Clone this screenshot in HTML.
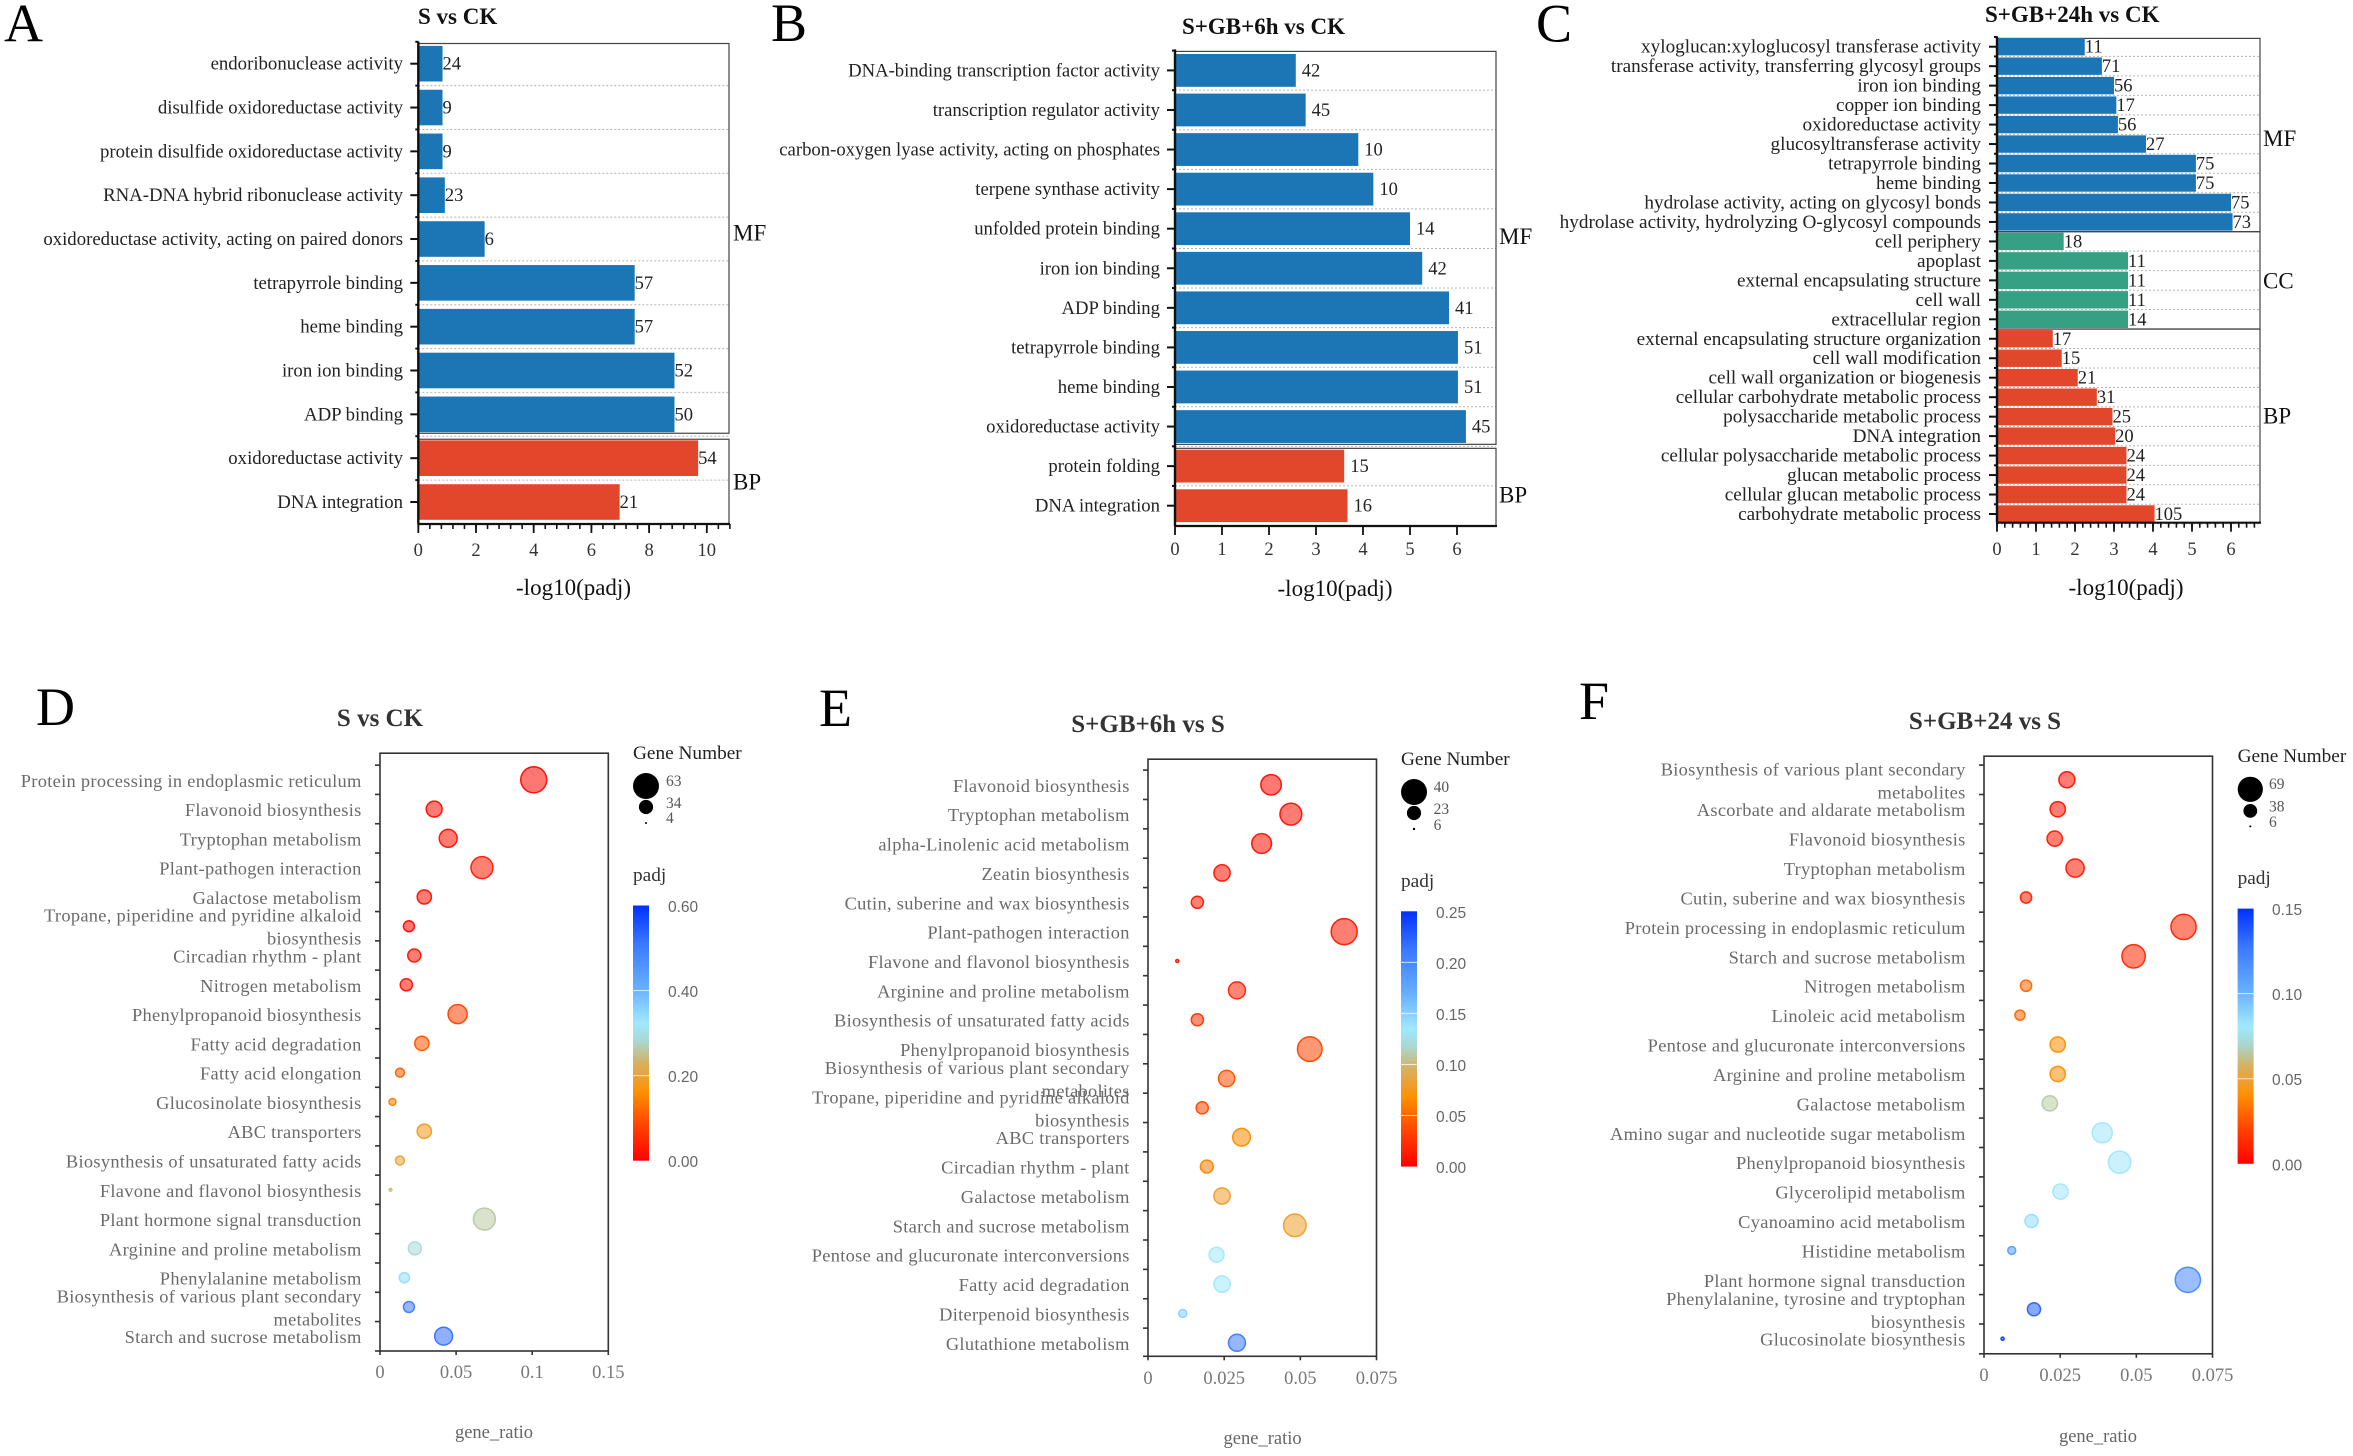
<!DOCTYPE html>
<html lang="en">
<head>
<meta charset="utf-8">
<title>GO and KEGG enrichment panels</title>
<style>
html,body{margin:0;padding:0;background:#fff;}
#chart{display:block;width:2353px;height:1456px;}
text{font-family:"Liberation Serif","Noto Serif CJK SC",serif;}
.sans{font-family:"Liberation Sans","Noto Sans CJK SC",sans-serif;}
</style>
</head>
<body>
<svg id="chart" xmlns="http://www.w3.org/2000/svg" width="2353" height="1456" viewBox="0 0 2353 1456">
<defs>
<linearGradient id="cbar" x1="0" y1="1" x2="0" y2="0">
<stop offset="0" stop-color="#ff0000"/><stop offset="0.15" stop-color="#ff4a00"/><stop offset="0.27" stop-color="#ff9000"/><stop offset="0.38" stop-color="#d8b060"/><stop offset="0.47" stop-color="#a8d8d0"/><stop offset="0.54" stop-color="#a0e8ff"/><stop offset="0.68" stop-color="#66aeff"/><stop offset="0.85" stop-color="#3a78ff"/><stop offset="1" stop-color="#0030ff"/>
</linearGradient>
</defs>
</svg>
<script>
// ---------- Bar panel data ----------
const aCategories = ["endoribonuclease activity","disulfide oxidoreductase activity","protein disulfide oxidoreductase activity","RNA-DNA hybrid ribonuclease activity","oxidoreductase activity, acting on paired donors","tetrapyrrole binding","heme binding","iron ion binding","ADP binding","oxidoreductase activity","DNA integration"];
const aValues = [0.84,0.84,0.84,0.92,2.3,7.5,7.5,8.88,8.88,9.7,6.98];
const aCounts = [24,9,9,23,6,57,57,52,50,54,21];
const aGroups = ["MF","MF","MF","MF","MF","MF","MF","MF","MF","BP","BP"];
const aTicks = [0,2,4,6,8,10];

const bCategories = ["DNA-binding transcription factor activity","transcription regulator activity","carbon-oxygen lyase activity, acting on phosphates","terpene synthase activity","unfolded protein binding","iron ion binding","ADP binding","tetrapyrrole binding","heme binding","oxidoreductase activity","protein folding","DNA integration"];
const bValues = [2.57,2.78,3.9,4.22,5.0,5.26,5.83,6.02,6.02,6.19,3.6,3.67];
const bCounts = [42,45,10,10,14,42,41,51,51,45,15,16];
const bGroups = ["MF","MF","MF","MF","MF","MF","MF","MF","MF","MF","BP","BP"];
const bTicks = [0,1,2,3,4,5,6];

const cCategories = ["xyloglucan:xyloglucosyl transferase activity","transferase activity, transferring glycosyl groups","iron ion binding","copper ion binding","oxidoreductase activity","glucosyltransferase activity","tetrapyrrole binding","heme binding","hydrolase activity, acting on glycosyl bonds","hydrolase activity, hydrolyzing O-glycosyl compounds","cell periphery","apoplast","external encapsulating structure","cell wall","extracellular region","external encapsulating structure organization","cell wall modification","cell wall organization or biogenesis","cellular carbohydrate metabolic process","polysaccharide metabolic process","DNA integration","cellular polysaccharide metabolic process","glucan metabolic process","cellular glucan metabolic process","carbohydrate metabolic process"];
const cValues = [2.25,2.69,3.0,3.06,3.1,3.82,5.1,5.1,6.0,6.04,1.71,3.36,3.36,3.36,3.36,1.43,1.66,2.07,2.56,2.96,3.03,3.32,3.32,3.32,4.04];
const cCounts = [11,71,56,17,56,27,75,75,75,73,18,11,11,11,14,17,15,21,31,25,20,24,24,24,105];
const cGroups = ["MF","MF","MF","MF","MF","MF","MF","MF","MF","MF","CC","CC","CC","CC","CC","BP","BP","BP","BP","BP","BP","BP","BP","BP","BP"];
const cTicks = [0,1,2,3,4,5,6];

// ---------- Bubble panel data ----------
const dCategories = ["Protein processing in endoplasmic reticulum","Flavonoid biosynthesis","Tryptophan metabolism","Plant-pathogen interaction","Galactose metabolism","Tropane, piperidine and pyridine alkaloid|biosynthesis","Circadian rhythm - plant","Nitrogen metabolism","Phenylpropanoid biosynthesis","Fatty acid degradation","Fatty acid elongation","Glucosinolate biosynthesis","ABC transporters","Biosynthesis of unsaturated fatty acids","Flavone and flavonol biosynthesis","Plant hormone signal transduction","Arginine and proline metabolism","Phenylalanine metabolism","Biosynthesis of various plant secondary|metabolites","Starch and sucrose metabolism"];
const dRatios = [0.101,0.0356,0.0448,0.067,0.0291,0.019,0.0225,0.0173,0.051,0.0275,0.0131,0.0082,0.0291,0.0131,0.0069,0.0686,0.0229,0.016,0.019,0.0418];
const dGenes = [63,38,43,53,34,26,31,29,46,34,21,16,34,21,6,53,31,24,26,43];
const dPadj = [0.01,0.015,0.02,0.03,0.02,0.012,0.02,0.02,0.08,0.1,0.11,0.14,0.18,0.2,0.24,0.26,0.29,0.34,0.5,0.52];
const dXTicks = [0,0.05,0.1,0.15];
const dSizeLegend = [63,34,4];
const dColorTicks = [0,0.2,0.4,0.6];

const eCategories = ["Flavonoid biosynthesis","Tryptophan metabolism","alpha-Linolenic acid metabolism","Zeatin biosynthesis","Cutin, suberine and wax biosynthesis","Plant-pathogen interaction","Flavone and flavonol biosynthesis","Arginine and proline metabolism","Biosynthesis of unsaturated fatty acids","Phenylpropanoid biosynthesis","Biosynthesis of various plant secondary|metabolites","Tropane, piperidine and pyridine alkaloid|biosynthesis","ABC transporters","Circadian rhythm - plant","Galactose metabolism","Starch and sucrose metabolism","Pentose and glucuronate interconversions","Fatty acid degradation","Diterpenoid biosynthesis","Glutathione metabolism"];
const eRatios = [0.0404,0.0469,0.0373,0.0243,0.0162,0.0644,0.0096,0.0292,0.0162,0.0531,0.0258,0.0178,0.0307,0.0193,0.0243,0.0482,0.0225,0.0243,0.0114,0.0292];
const eGenes = [32,34,31,26,20,40,7,27,20,38,26,20,28,21,26,35,24,26,14,27];
const ePadj = [0.005,0.007,0.008,0.01,0.012,0.012,0.013,0.018,0.025,0.035,0.04,0.035,0.065,0.06,0.08,0.08,0.135,0.135,0.15,0.21];
const eXTicks = [0,0.025,0.05,0.075];
const eSizeLegend = [40,23,6];
const eColorTicks = [0,0.05,0.1,0.15,0.2,0.25];

const fCategories = ["Biosynthesis of various plant secondary|metabolites","Ascorbate and aldarate metabolism","Flavonoid biosynthesis","Tryptophan metabolism","Cutin, suberine and wax biosynthesis","Protein processing in endoplasmic reticulum","Starch and sucrose metabolism","Nitrogen metabolism","Linoleic acid metabolism","Pentose and glucuronate interconversions","Arginine and proline metabolism","Galactose metabolism","Amino sugar and nucleotide sugar metabolism","Phenylpropanoid biosynthesis","Glycerolipid metabolism","Cyanoamino acid metabolism","Histidine metabolism","Plant hormone signal transduction","Phenylalanine, tyrosine and tryptophan|biosynthesis","Glucosinolate biosynthesis"];
const fRatios = [0.0272,0.0242,0.0232,0.0299,0.0138,0.0655,0.0491,0.0138,0.0118,0.0242,0.0242,0.0216,0.0388,0.0445,0.0251,0.0156,0.0091,0.0669,0.0164,0.0061];
const fGenes = [44,42,42,50,31,69,64,31,28,42,42,42,55,61,42,36,22,69,36,9];
const fPadj = [0.005,0.006,0.007,0.007,0.009,0.01,0.012,0.03,0.03,0.04,0.04,0.065,0.08,0.08,0.08,0.085,0.11,0.12,0.135,0.145];
const fXTicks = [0,0.025,0.05,0.075];
const fSizeLegend = [69,38,6];
const fColorTicks = [0,0.05,0.1,0.15];

const NS = 'http://www.w3.org/2000/svg';
const root = document.getElementById('chart');
const groupColors = {MF:'#1c76b6',CC:'#35a084',BP:'#e2472b'};
const ramp = [[0,255,0,0],[0.15,255,74,0],[0.27,255,144,0],[0.38,216,176,96],[0.47,168,216,208],[0.54,160,232,255],[0.68,102,174,255],[0.85,58,120,255],[1,0,48,255]];

function colorAt(t){
  t = Math.max(0,Math.min(1,t));
  for(let i=1;i<ramp.length;i++){
    if(t<=ramp[i][0]){
      const a=ramp[i-1],b=ramp[i],k=(t-a[0])/(b[0]-a[0]);
      return 'rgb('+[1,2,3].map(j=>Math.round(a[j]+(b[j]-a[j])*k)).join(',')+')';
    }
  }
  return 'rgb(0,48,255)';
}
function mk(tag,attrs,parent,txt){
  const el=document.createElementNS(NS,tag);
  for(const k in attrs) el.setAttribute(k,attrs[k]);
  if(txt!==undefined) el.textContent=txt;
  (parent||root).appendChild(el);
  return el;
}
function line(p,x1,y1,x2,y2,stroke,w,extra){
  return mk('line',Object.assign({x1,y1,x2,y2,stroke,'stroke-width':w},extra||{}),p);
}

function drawBarPanel(cfg,categories,values,counts,groups,ticks){
  const g=mk('g',{});
  
  
  const xScale=v=>cfg.x0+v*cfg.unit;
  const yScale=i=>cfg.yFirst+i*(cfg.yLast-cfg.yFirst)/(categories.length-1);
  const band=(cfg.yLast-cfg.yFirst)/(categories.length-1);
  const right=cfg.right;

  const title=mk('text',{x:cfg.titleX,y:cfg.titleY,'font-size':23,'font-weight':'bold',fill:'#111'},g,cfg.title);
  
  

  categories.forEach((c,i)=>{
    const y=yScale(i);
    const grid=line(g,cfg.x0,y+band/2,right,y+band/2,'#b5b5b5',1,{'stroke-dasharray':'2 2'});
    
    
  });
  // group boxes
  const seen=[];
  groups.forEach((gr,i)=>{ if(!seen.includes(gr)) seen.push(gr); });
  seen.forEach(gr=>{
    const first=groups.indexOf(gr), last=groups.lastIndexOf(gr);
    const top=first===0?cfg.boxTop:yScale(first)-band/2+cfg.boxGap;
    const bottom=last===groups.length-1?cfg.bottom:yScale(last)+band/2-cfg.boxGap;
    const box=mk('rect',{x:cfg.x0,y:top,width:right-cfg.x0,height:bottom-top,fill:'none',stroke:'#444','stroke-width':1.2},g);
    
    
    const lbl=mk('text',{x:right+cfg.groupDx,y:(top+bottom)/2+cfg.groupDy[gr],'font-size':23,fill:'#111'},g,gr);
    
    
  });
  categories.forEach((c,i)=>{
    const y=yScale(i);
    const bar=mk('rect',{x:xScale(0),y:y-cfg.barH/2,width:xScale(values[i])-xScale(0),height:cfg.barH,fill:groupColors[groups[i]]},g);
    
    
    const cnt=mk('text',{x:xScale(values[i])+cfg.countDx,y:y+6,'font-size':18.5,fill:'#222'},g,String(counts[i]));
    
    
    const lab=mk('text',{x:cfg.labelX,y:y+6,'text-anchor':'end','font-size':cfg.fs,fill:'#222'},g,c);
    
    
    const t=line(g,cfg.x0-8,y,cfg.x0,y,'#111',2);
    
    
    const t2=line(g,cfg.x0-3,y-band/2,cfg.x0,y-band/2,'#111',2);
    
    
  });
  const yAxis=line(g,cfg.x0,cfg.boxTop-2,cfg.x0,cfg.bottom,'#111',2.4);
  
  
  const xAxis=line(g,cfg.x0,cfg.bottom,right+1,cfg.bottom,'#111',2.2);
  
  
  if(cfg.minor){
    for(let k=0;xScale(k*cfg.minor)<=right+1.5;k++){
      const m=line(g,xScale(k*cfg.minor),cfg.bottom,xScale(k*cfg.minor),cfg.bottom+5,'#111',1.6);
      
      
    }
  }
  ticks.forEach(v=>{
    const tk=line(g,xScale(v),cfg.bottom,xScale(v),cfg.bottom+9,'#111',1.8);
    
    
    const tl=mk('text',{x:xScale(v),y:cfg.tickY,'text-anchor':'middle','font-size':cfg.tickFs,fill:'#333'},g,String(v));
    
    
  });
  const at=mk('text',{x:cfg.axisX,y:cfg.axisY,'text-anchor':'middle','font-size':23,fill:'#111'},g,'-log10(padj)');
  
  
}

function drawBubblePanel(cfg,categories,ratios,genes,padj,xTicks,sizeLegend,colorTicks){
  const g=mk('g',{});
  
  
  const xMax=xTicks[xTicks.length-1];
  const xScale=v=>cfg.left+v/xMax*(cfg.right-cfg.left);
  const band=(cfg.yLast-cfg.yFirst)/(categories.length-1);
  const yScale=i=>cfg.yFirst+i*band;
  const nMax=sizeLegend[0],nMin=sizeLegend[sizeLegend.length-1];
  const rScale=n=>cfg.rMin+(n-nMin)*(cfg.rMax-cfg.rMin)/(nMax-nMin);
  const cMax=colorTicks[colorTicks.length-1];

  const title=mk('text',{x:cfg.titleX,y:cfg.titleY,'text-anchor':'middle','font-size':25,'font-weight':'bold',fill:'#333'},g,cfg.title);
  
  

  const box=mk('rect',{x:cfg.left,y:cfg.top,width:cfg.right-cfg.left,height:cfg.bottom-cfg.top,fill:'none',stroke:'#333','stroke-width':1.6},g);
  
  

  categories.forEach((c,i)=>{
    const y=yScale(i);
    const up=line(g,cfg.left-5,y-band/2,cfg.left,y-band/2,'#333',1.6);
    
    
    const parts=c.split('|');
    parts.forEach((p,k)=>{
      const ty=parts.length===1?y+7:y+7+(k-0.5)*23;
      const lab=mk('text',{x:cfg.labelX,y:ty,'text-anchor':'end','font-size':cfg.fs,fill:'#6a6a6a','letter-spacing':cfg.ls},g,p);
      
      
    });
    const col=colorAt(padj[i]/cMax);
    const dot=mk('circle',{cx:xScale(ratios[i]),cy:y,r:rScale(genes[i]),fill:col,'fill-opacity':0.55,stroke:col,'stroke-opacity':0.95,'stroke-width':1.5},g);
    
    
  });
  const lastTick=line(g,cfg.left-5,cfg.bottom,cfg.left,cfg.bottom,'#333',1.6);
  
  

  xTicks.forEach(v=>{
    const tk=line(g,xScale(v),cfg.bottom,xScale(v),cfg.bottom+4,'#333',1.6);
    
    
    const tl=mk('text',{x:xScale(v),y:cfg.tickY,'text-anchor':'middle','font-size':18.5,fill:'#777'},g,String(v));
    
    
  });
  const at=mk('text',{x:cfg.axisX,y:cfg.axisY,'text-anchor':'middle','font-size':18.5,fill:'#666'},g,'gene_ratio');
  
  

  const gn=mk('text',{x:cfg.legX,y:cfg.gnY,'font-size':19.3,fill:'#222'},g,'Gene Number');
  
  
  sizeLegend.forEach((n,i)=>{
    const c=mk('circle',{cx:cfg.legCx,cy:cfg.legCy[i],r:rScale(n),fill:'#000'},g);
    
    
    const t=mk('text',{x:cfg.legTx,y:cfg.legTy[i]+5,'font-size':15.5,fill:'#555'},g,String(n));
    
    
  });
  const pj=mk('text',{x:cfg.legX,y:cfg.padjY,'font-size':19.3,fill:'#333'},g,'padj');
  
  
  const bar=mk('rect',{x:cfg.legX,y:cfg.barTop,width:16,height:cfg.barBottom-cfg.barTop,fill:'url(#cbar)'},g);
  
  
  const cy=v=>cfg.barBottom-v/cMax*(cfg.barBottom-cfg.barTop);
  colorTicks.forEach(v=>{
    if(v>0&&v<cMax){
      const w=line(g,cfg.legX,cy(v),cfg.legX+16,cy(v),'#ffffff',1,{'stroke-opacity':0.75});
      
      
    }
    const t=mk('text',{x:cfg.cTx,y:cy(v)+6.5,'font-size':15.5,fill:'#666',class:'sans'},g,v.toFixed(2));
    
    
  });
}

const letters=[['A',4,41.5],['B',771,41],['C',1536,41.5],['D',36,725],['E',819,726],['F',1579,719]];
letters.forEach(l=>{
  const t=mk('text',{x:l[1],y:l[2],'font-size':54,fill:'#000'},root,l[0]);
  
  
});

drawBarPanel({name:'panel-a',title:'S vs CK',titleX:418,titleY:24,x0:418.3,unit:28.85,yFirst:63.7,yLast:502,barH:35.6,right:729,boxTop:43.5,bottom:524,boxGap:3,fs:18.8,labelX:403,countDx:0,groupDx:4,groupDy:{MF:2,BP:8},minor:0.4,tickY:556,tickFs:18.5,axisX:573.5,axisY:595},aCategories,aValues,aCounts,aGroups,aTicks);
drawBarPanel({name:'panel-b',title:'S+GB+6h vs CK',titleX:1182,titleY:34,x0:1175,unit:47,yFirst:70.4,yLast:505.7,barH:32.8,right:1496,boxTop:51.4,bottom:526,boxGap:2,fs:18.7,labelX:1160,countDx:6,groupDx:3,groupDy:{MF:-4,BP:15.5},minor:0,tickY:555,tickFs:18.5,axisX:1335,axisY:596},bCategories,bValues,bCounts,bGroups,bTicks);
drawBarPanel({name:'panel-c',title:'S+GB+24h vs CK',titleX:1985,titleY:22,x0:1997,unit:39,yFirst:46.7,yLast:514,barH:17.4,right:2260,boxTop:38.4,bottom:522.7,boxGap:0,fs:19.2,labelX:1981,countDx:0,groupDx:3,groupDy:{MF:11,CC:8,BP:-2.5},minor:0.2,tickY:555,tickFs:18.5,axisX:2126,axisY:595},cCategories,cValues,cCounts,cGroups,cTicks);

drawBubblePanel({name:'panel-d',title:'S vs CK',titleX:380,titleY:726,left:380,right:608.3,top:753.2,bottom:1351,yFirst:779.8,yLast:1336.2,labelX:361.6,fs:18.4,ls:0.3,rMin:1,rMax:13,tickY:1378,axisX:494,axisY:1438,legX:633,legCx:646,gnY:759,legCy:[786,807,823],legTx:666,legTy:[781,803,818],padjY:881,barTop:905.5,barBottom:1160.7,cTx:668},dCategories,dRatios,dGenes,dPadj,dXTicks,dSizeLegend,dColorTicks);
drawBubblePanel({name:'panel-e',title:'S+GB+6h vs S',titleX:1148,titleY:732,left:1148,right:1376.5,top:759.2,bottom:1356.3,yFirst:784.8,yLast:1342.8,labelX:1129.7,fs:18.4,ls:0.3,rMin:1.2,rMax:13,tickY:1384,axisX:1262.6,axisY:1444,legX:1401,legCx:1414,gnY:765,legCy:[792,813,829],legTx:1433.6,legTy:[787,809,825],padjY:887,barTop:911.3,barBottom:1166.6,cTx:1436},eCategories,eRatios,eGenes,ePadj,eXTicks,eSizeLegend,eColorTicks);
drawBubblePanel({name:'panel-f',title:'S+GB+24 vs S',titleX:1985,titleY:729,left:1984,right:2212.5,top:756.2,bottom:1353.8,yFirst:779.8,yLast:1338.7,labelX:1965.6,fs:18.4,ls:0.3,rMin:1,rMax:12.6,tickY:1381,axisX:2098,axisY:1442,legX:2237.6,legCx:2250.3,gnY:762,legCy:[789.3,810.9,826.4],legTx:2269,legTy:[783.8,806.4,821.9],padjY:884,barTop:908.6,barBottom:1163.8,cTx:2272},fCategories,fRatios,fGenes,fPadj,fXTicks,fSizeLegend,fColorTicks);
</script>
</body>
</html>
